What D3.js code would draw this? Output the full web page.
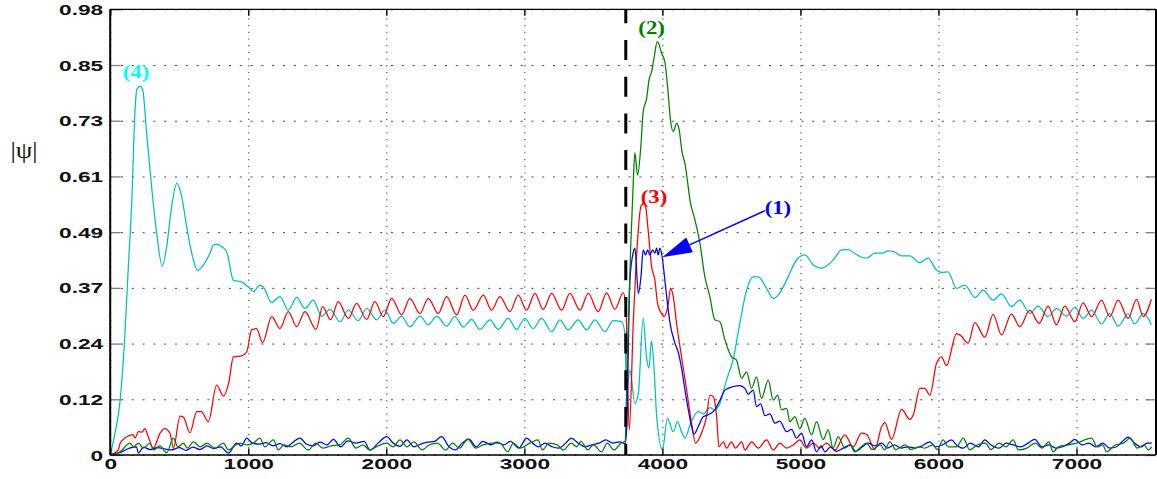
<!DOCTYPE html>
<html>
<head>
<meta charset="utf-8">
<script src="https://cdn.jsdelivr.net/npm/d3@7"></script>
<style>
  body { margin: 0; background: #fff; }
  svg { display: block; }
</style>
</head>
<body>
<svg id="chart" width="1157" height="479"></svg>
<script>
// ---- data: [time, |psi|] samples for the four wave-function components ----
const psi1 = [ // blue, component (1)
  [0,0],[70,0.005],[140,0.015],[190,0.018],[205,0.004],[240,0.017],[290,0.012],[340,0.016],[400,0.013],[440,0.011],
  [500,0.016],[550,0.01],[600,0.017],[650,0.012],[700,0.02],[750,0.014],[800,0.018],[856,0.004],[916,0.026],[950,0.02],
  [989,0.037],[1030,0.026],[1080,0.024],[1130,0.027],[1180,0.02],[1230,0.025],[1280,0.018],[1320,0.027],[1375,0.037],
  [1420,0.024],[1470,0.02],[1520,0.028],[1570,0.022],[1617,0.034],[1670,0.018],[1720,0.031],[1780,0.026],[1840,0.03],
  [1882,0.011],[1940,0.026],[2003,0.04],[2050,0.026],[2100,0.019],[2150,0.033],[2200,0.018],[2250,0.024],[2300,0.028],
  [2350,0.03],[2401,0.04],[2450,0.02],[2500,0.011],[2550,0.026],[2600,0.035],[2650,0.018],[2700,0.03],[2760,0.022],
  [2800,0.028],[2850,0.022],[2900,0.03],[2960,0.015],[3016,0.037],[3060,0.026],[3100,0.018],[3150,0.026],[3200,0.018],
  [3250,0.015],[3300,0.026],[3340,0.037],[3390,0.026],[3440,0.018],[3490,0.022],[3540,0.026],[3590,0.033],[3640,0.026],
  [3690,0.029],[3730,0.025],[3740,0.05],[3765,0.383],[3790,0.445],[3801,0.453],[3826,0.354],[3845,0.39],[3861,0.449],
  [3878,0.438],[3893,0.449],[3909,0.438],[3929,0.449],[3946,0.442],[3958,0.453],[3970,0.438],[3982,0.453],[3999,0.433],
  [4018,0.383],[4043,0.317],[4055,0.29],[4091,0.245],[4115,0.225],[4139,0.19],[4165,0.14],[4188,0.099],[4212,0.062],
  [4229,0.046],[4260,0.062],[4296,0.084],[4332,0.088],[4380,0.099],[4417,0.12],[4453,0.142],[4513,0.15],[4561,0.152],
  [4598,0.146],[4622,0.133],[4658,0.142],[4682,0.106],[4712,0.112],[4743,0.086],[4779,0.09],[4815,0.07],[4851,0.074],
  [4900,0.051],[4936,0.056],[4972,0.037],[5008,0.048],[5044,0.018],[5081,0.033],[5117,0.007],[5150,0.02],[5177,0.007],
  [5220,0.018],[5260,0.008],[5310,0.015],[5360,0.022],[5400,0.008],[5450,0.018],[5491,0.026],[5540,0.02],[5590,0.026],
  [5630,0.015],[5680,0.022],[5730,0.015],[5780,0.018],[5830,0.015],[5880,0.02],[5938,0.029],[5980,0.018],[6030,0.022],
  [6095,0.033],[6130,0.022],[6180,0.015],[6230,0.026],[6290,0.018],[6336,0.033],[6380,0.022],[6440,0.015],[6490,0.026],
  [6540,0.022],[6600,0.018],[6650,0.026],[6698,0.034],[6750,0.018],[6800,0.022],[6850,0.015],[6900,0.018],[6950,0.026],
  [6988,0.034],[7040,0.022],[7090,0.026],[7140,0.018],[7190,0.026],[7240,0.015],[7290,0.018],[7330,0.029],[7374,0.039],
  [7420,0.026],[7470,0.018],[7510,0.026],[7545,0.026]
];

const psi2 = [ // green, component (2)
  [0,0],[72,0.007],[143,0.026],[170,0.018],[204,0.026],[240,0.015],[288,0.026],[313,0.011],[360,0.02],[409,0.005],
  [458,0.037],[490,0.018],[530,0.026],[560,0.015],[602,0.029],[651,0.018],[700,0.026],[759,0.015],[820,0.026],[856,0.011],
  [900,0.02],[940,0.026],[990,0.022],[1037,0.026],[1085,0.037],[1120,0.018],[1182,0.033],[1218,0.011],[1260,0.022],
  [1310,0.018],[1370,0.026],[1435,0.011],[1490,0.026],[1540,0.015],[1600,0.02],[1660,0.022],[1725,0.037],[1780,0.015],
  [1830,0.022],[1880,0.011],[1940,0.02],[2003,0.026],[2050,0.018],[2099,0.033],[2150,0.018],[2200,0.029],[2260,0.011],
  [2310,0.022],[2370,0.026],[2430,0.011],[2480,0.026],[2530,0.015],[2590,0.035],[2650,0.015],[2700,0.022],[2770,0.026],
  [2823,0.026],[2880,0.007],[2920,0.026],[2970,0.015],[3040,0.026],[3100,0.033],[3130,0.011],[3180,0.026],[3240,0.022],
  [3280,0.011],[3340,0.026],[3380,0.018],[3410,0.03],[3460,0.011],[3500,0.022],[3560,0.007],[3600,0.026],[3650,0.011],
  [3700,0.026],[3730,0.03],[3745,0.2],[3770,0.45],[3790,0.604],[3801,0.662],[3820,0.613],[3844,0.675],[3861,0.752],
  [3886,0.781],[3903,0.821],[3922,0.839],[3941,0.872],[3963,0.905],[3975,0.9],[3994,0.88],[4018,0.861],[4038,0.806],
  [4059,0.733],[4079,0.708],[4103,0.726],[4120,0.715],[4144,0.661],[4163,0.639],[4180,0.604],[4200,0.558],[4236,0.515],
  [4272,0.464],[4308,0.39],[4344,0.347],[4380,0.296],[4417,0.292],[4453,0.252],[4501,0.215],[4537,0.208],[4574,0.168],
  [4610,0.182],[4646,0.146],[4682,0.171],[4718,0.124],[4767,0.164],[4803,0.12],[4835,0.131],[4863,0.099],[4900,0.102],
  [4924,0.073],[4960,0.084],[4996,0.058],[5032,0.08],[5081,0.044],[5117,0.073],[5165,0.034],[5201,0.055],[5237,0.015],
  [5274,0.04],[5322,0.015],[5360,0.022],[5394,0.007],[5440,0.018],[5479,0.026],[5520,0.012],[5580,0.022],[5610,0.011],
  [5648,0.029],[5690,0.012],[5760,0.022],[5800,0.012],[5860,0.018],[5900,0.015],[5960,0.022],[5990,0.012],[6035,0.033],
  [6070,0.018],[6130,0.018],[6180,0.037],[6227,0.011],[6280,0.022],[6340,0.026],[6380,0.012],[6440,0.026],[6490,0.018],
  [6541,0.033],[6580,0.011],[6640,0.015],[6700,0.026],[6750,0.015],[6800,0.029],[6830,0.007],[6870,0.018],[6940,0.022],
  [7000,0.026],[7109,0.037],[7150,0.018],[7190,0.022],[7218,0.007],[7280,0.022],[7340,0.026],[7390,0.037],[7440,0.015],
  [7490,0.022],[7520,0.011],[7545,0.018]
];

const psi3 = [ // red, component (3)
  [0,0],[60,0.011],[72,0.026],[107,0.037],[121,0.04],[156,0.044],[168,0.044],[180,0.037],[204,0.051],[230,0.05],
  [252,0.058],[270,0.045],[313,0.015],[361,0.048],[397,0.058],[433,0.048],[458,0.015],[506,0.085],[530,0.083],[578,0.049],
  [626,0.095],[660,0.095],[711,0.073],[771,0.153],[820,0.129],[860,0.16],[892,0.215],[952,0.217],[989,0.226],[1025,0.274],
  [1061,0.277],[1104,0.246],[1170,0.303],[1230,0.277],[1290,0.314],[1351,0.281],[1411,0.314],[1491,0.275],[1539,0.325],
  [1597,0.296],[1652,0.336],[1725,0.299],[1785,0.332],[1858,0.297],[1918,0.336],[1978,0.303],[2039,0.343],[2111,0.307],
  [2171,0.343],[2244,0.31],[2304,0.343],[2377,0.31],[2437,0.347],[2510,0.307],[2570,0.35],[2630,0.317],[2703,0.35],
  [2763,0.317],[2823,0.347],[2896,0.314],[2956,0.35],[3016,0.317],[3077,0.354],[3137,0.319],[3198,0.354],[3270,0.317],
  [3330,0.354],[3403,0.317],[3463,0.354],[3535,0.314],[3596,0.355],[3656,0.319],[3716,0.355],[3735,0.33],[3760,0.055],
  [3790,0.296],[3810,0.42],[3845,0.544],[3862,0.551],[3878,0.544],[3897,0.493],[3922,0.412],[3946,0.383],[3965,0.332],
  [3994,0.31],[4013,0.303],[4043,0.332],[4059,0.365],[4079,0.347],[4103,0.288],[4139,0.215],[4176,0.142],[4212,0.069],
  [4240,0.026],[4284,0.048],[4320,0.084],[4344,0.131],[4368,0.128],[4393,0.084],[4410,0.018],[4441,0.029],[4465,0.015],
  [4500,0.029],[4530,0.015],[4574,0.029],[4598,0.011],[4646,0.029],[4694,0.015],[4755,0.033],[4803,0.011],[4851,0.026],
  [4900,0.015],[4948,0.022],[4996,0.033],[5044,0.015],[5093,0.026],[5140,0.015],[5189,0.026],[5250,0.011],[5322,0.044],
  [5382,0.018],[5443,0.048],[5480,0.045],[5539,0.012],[5588,0.062],[5612,0.071],[5660,0.034],[5733,0.1],[5793,0.078],
  [5820,0.09],[5865,0.146],[5901,0.146],[5938,0.131],[5986,0.201],[6022,0.215],[6058,0.196],[6131,0.266],[6160,0.262],
  [6215,0.245],[6264,0.29],[6336,0.258],[6396,0.308],[6457,0.263],[6529,0.309],[6589,0.281],[6662,0.317],[6730,0.288],
  [6794,0.326],[6855,0.285],[6915,0.326],[6988,0.292],[7048,0.333],[7109,0.303],[7181,0.339],[7241,0.303],[7302,0.339],
  [7374,0.299],[7435,0.341],[7483,0.303],[7543,0.341]
];

const psi4 = [ // cyan, component (4)
  [0,0],[35,0.048],[72,0.12],[107,0.267],[131,0.41],[157,0.56],[180,0.755],[192,0.8],[216,0.808],[235,0.8],
  [264,0.705],[300,0.587],[337,0.485],[377,0.414],[409,0.456],[445,0.544],[482,0.595],[518,0.566],[554,0.5],[597,0.434],
  [634,0.404],[675,0.416],[723,0.442],[747,0.46],[771,0.462],[807,0.456],[844,0.445],[892,0.383],[952,0.379],[1000,0.368],
  [1037,0.358],[1085,0.372],[1109,0.368],[1170,0.334],[1230,0.347],[1290,0.317],[1351,0.345],[1411,0.321],[1471,0.339],
  [1532,0.304],[1592,0.319],[1665,0.292],[1725,0.317],[1797,0.294],[1858,0.321],[1930,0.296],[1990,0.317],[2051,0.288],
  [2111,0.304],[2171,0.281],[2244,0.304],[2304,0.285],[2365,0.304],[2437,0.282],[2497,0.303],[2558,0.28],[2618,0.297],
  [2678,0.275],[2751,0.296],[2811,0.275],[2883,0.299],[2944,0.275],[3004,0.299],[3064,0.277],[3125,0.299],[3198,0.27],
  [3258,0.296],[3318,0.274],[3390,0.296],[3451,0.274],[3511,0.296],[3584,0.27],[3644,0.294],[3704,0.292],[3729,0.266],
  [3740,0.135],[3765,0.186],[3801,0.113],[3826,0.135],[3861,0.299],[3886,0.212],[3903,0.19],[3921,0.25],[3940,0.19],
  [3958,0.088],[4000,0.011],[4037,0.08],[4079,0.051],[4109,0.073],[4139,0.051],[4163,0.037],[4205,0.07],[4260,0.095],
  [4300,0.09],[4344,0.104],[4380,0.099],[4417,0.113],[4465,0.164],[4513,0.21],[4561,0.288],[4610,0.361],[4658,0.39],
  [4694,0.39],[4755,0.365],[4803,0.343],[4840,0.35],[4900,0.383],[4972,0.427],[5032,0.438],[5093,0.416],[5153,0.409],
  [5237,0.427],[5298,0.449],[5346,0.45],[5400,0.44],[5443,0.433],[5479,0.431],[5539,0.442],[5590,0.442],[5636,0.447],
  [5680,0.445],[5733,0.436],[5793,0.436],[5865,0.421],[5925,0.431],[5986,0.405],[6020,0.4],[6070,0.401],[6131,0.365],
  [6191,0.372],[6264,0.345],[6324,0.361],[6396,0.339],[6457,0.353],[6529,0.325],[6589,0.339],[6662,0.31],[6722,0.326],
  [6794,0.303],[6855,0.321],[6927,0.304],[6988,0.323],[7048,0.299],[7109,0.317],[7181,0.287],[7241,0.31],[7302,0.282],
  [7374,0.309],[7422,0.287],[7483,0.31],[7543,0.285]
];

// axis ticks
const xTickValues = [0, 1000, 2000, 3000, 4000, 5000, 6000, 7000];
const yTickValues = [0, 0.122, 0.244, 0.366, 0.488, 0.61, 0.732, 0.854, 0.976];
const yTickLabels = ["0", "0.12", "0.24", "0.37", "0.49", "0.61", "0.73", "0.85", "0.98"];

// moment of the switch (dashed vertical marker)
const switchTime = 3735;

// component labels, anchored in data space
const labels = [
  { text: "(1)", t: 4837, v: 0.541, color: "#0000ff" },
  { text: "(2)", t: 3922, v: 0.936, color: "#008000" },
  { text: "(3)", t: 3939, v: 0.565, color: "#ff0000" },
  { text: "(4)", t: 187,  v: 0.839, color: "#00ffff" }
];
// arrow from label (1) to the plateau of component (1)
const arrowTail = { t: 4743, v: 0.535 };
const arrowTip  = { t: 3999, v: 0.433 };

// ---- layout ----
const W = 1157, H = 479;
const plot = { left: 110.2, right: 1156, top: 9.3, bottom: 455 };
const textStretch = 1.62;   // glyphs are drawn wide

const svg = d3.select("#chart");
const x = d3.scaleLinear().domain([0, 7576]).range([plot.left, plot.right]);
const y = d3.scaleLinear().domain([0, 0.976]).range([plot.bottom, plot.top]);

svg.append("rect").attr("width", W).attr("height", H).attr("fill", "#fff");

// grid
const grid = svg.append("g");
grid.call(d3.axisLeft(y).tickValues(yTickValues).tickSize(-(plot.right - plot.left)).tickFormat(""))
  .attr("transform", `translate(${plot.left},0)`);
grid.select(".domain").remove();
grid.selectAll("line").attr("stroke", "#444").attr("stroke-width", 1)
  .attr("stroke-dasharray", "2,8.8");

const gridV = svg.append("g").attr("transform", `translate(0,${plot.bottom})`)
  .call(d3.axisBottom(x).tickValues(xTickValues).tickSize(-(plot.bottom - plot.top)).tickFormat(""));
gridV.select(".domain").remove();
gridV.selectAll("line").attr("stroke", "#555").attr("stroke-width", 1.2)
  .attr("stroke-dasharray", "1.2,5.5");

// clip for the curves
svg.append("clipPath").attr("id", "clip").append("rect")
  .attr("x", plot.left).attr("y", plot.top)
  .attr("width", plot.right - plot.left).attr("height", plot.bottom - plot.top);

const line = d3.line().x(d => x(d[0])).y(d => y(d[1])).curve(d3.curveMonotoneX);
const curves = svg.append("g").attr("clip-path", "url(#clip)");
[[psi4, "#00bfbf"], [psi3, "#ff0000"], [psi1, "#0000ff"], [psi2, "#008000"]].forEach(([data, color]) => {
  curves.append("path").datum(data)
    .attr("fill", "none").attr("stroke", color).attr("stroke-width", 1.25)
    .attr("stroke-linejoin", "round").attr("d", line);
});

// dashed switch marker
svg.append("line")
  .attr("x1", x(switchTime)).attr("x2", x(switchTime))
  .attr("y1", plot.top).attr("y2", plot.bottom)
  .attr("stroke", "#000").attr("stroke-width", 3)
  .attr("stroke-dasharray", "20,16.7").attr("stroke-dashoffset", 6);

// axes
const font = "'Liberation Sans', Arial, sans-serif";
function stretchLabels(g, dx, dy) {
  g.selectAll("text")
    .attr("x", null).attr("y", null)
    .attr("transform", `translate(${dx},${dy}) scale(${textStretch},1)`)
    .attr("fill", "#111")
    .style("font-family", font).style("font-size", "14px").style("font-weight", "bold");
}

const yAxis = svg.append("g").attr("transform", `translate(${plot.left},0)`)
  .call(d3.axisLeft(y).tickValues(yTickValues).tickFormat((d, i) => yTickLabels[i])
    .tickSizeInner(-10.5).tickSizeOuter(0));
yAxis.select(".domain").remove();
yAxis.selectAll(".tick line").attr("stroke", "#808080").attr("stroke-width", 1.3);
stretchLabels(yAxis, -7, 0);
yAxis.selectAll("text").attr("dy", "0.36em");

const yAxisR = svg.append("g").attr("transform", `translate(${plot.right},0)`)
  .call(d3.axisRight(y).tickValues(yTickValues).tickFormat("").tickSizeInner(-10.5).tickSizeOuter(0));
yAxisR.select(".domain").remove();
yAxisR.selectAll(".tick line").attr("stroke", "#808080").attr("stroke-width", 1.3);

const xAxis = svg.append("g").attr("transform", `translate(0,${plot.bottom})`)
  .call(d3.axisBottom(x).tickValues(xTickValues).tickFormat(d3.format("d"))
    .tickSizeInner(-6.5).tickSizeOuter(0));
xAxis.select(".domain").remove();
xAxis.selectAll(".tick line").attr("stroke", "#111").attr("stroke-width", 1.5);
stretchLabels(xAxis, 0, 4.5);
xAxis.selectAll("text").attr("dy", "0.71em");

const xAxisT = svg.append("g").attr("transform", `translate(0,${plot.top})`)
  .call(d3.axisTop(x).tickValues(xTickValues).tickFormat("").tickSizeInner(-6.5).tickSizeOuter(0));
xAxisT.select(".domain").remove();
xAxisT.selectAll(".tick line").attr("stroke", "#111").attr("stroke-width", 1.5);

// frame
const frame = svg.append("g").attr("stroke", "#000").attr("fill", "none");
frame.append("line").attr("x1", plot.left).attr("x2", plot.left).attr("y1", plot.top).attr("y2", plot.bottom).attr("stroke-width", 2);
frame.append("line").attr("x1", plot.right).attr("x2", plot.right).attr("y1", plot.top).attr("y2", plot.bottom).attr("stroke-width", 2);
frame.append("line").attr("x1", plot.left).attr("x2", plot.right).attr("y1", plot.top).attr("y2", plot.top).attr("stroke-width", 1.3);
frame.append("line").attr("x1", plot.left).attr("x2", plot.right).attr("y1", plot.bottom).attr("y2", plot.bottom).attr("stroke-width", 1.5);

// y label
svg.append("text")
  .attr("transform", `translate(24,158) scale(1.1,1)`)
  .attr("text-anchor", "middle")
  .style("font-family", "'Liberation Serif', 'Times New Roman', serif")
  .style("font-size", "24px")
  .attr("fill", "#111")
  .text("|ψ|");

// arrow (1)
const tail = [x(arrowTail.t), y(arrowTail.v)];
const tip = [x(arrowTip.t), y(arrowTip.v)];
const len = Math.hypot(tail[0] - tip[0], tail[1] - tip[1]);
const u = [(tail[0] - tip[0]) / len, (tail[1] - tip[1]) / len];
const n = [-u[1], u[0]];
const headLen = 30, headHalf = 8;
const base = [tip[0] + u[0] * headLen, tip[1] + u[1] * headLen];
svg.append("line")
  .attr("x1", tail[0]).attr("y1", tail[1]).attr("x2", base[0]).attr("y2", base[1])
  .attr("stroke", "#0000ff").attr("stroke-width", 1.5);
svg.append("path")
  .attr("d", d3.line()([tip, [base[0] + n[0] * headHalf, base[1] + n[1] * headHalf],
                            [base[0] - n[0] * headHalf, base[1] - n[1] * headHalf]]) + "Z")
  .attr("fill", "#0000ff");

// component labels
svg.append("g").selectAll("text").data(labels).join("text")
  .attr("transform", d => `translate(${x(d.t)},${y(d.v)}) scale(1.2,1)`)
  .attr("text-anchor", "middle")
  .attr("dy", "0.33em")
  .style("font-family", "'Liberation Serif', 'Times New Roman', serif")
  .style("font-weight", "bold")
  .style("font-size", "19px")
  .attr("fill", d => d.color)
  .text(d => d.text);
</script>
</body>
</html>
